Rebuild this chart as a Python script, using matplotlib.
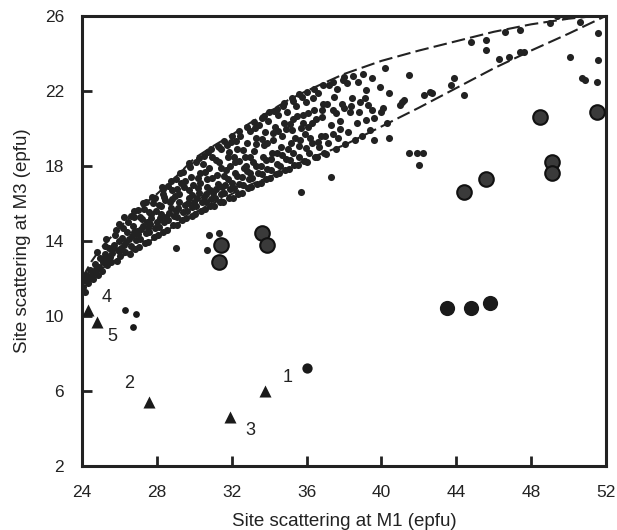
import numpy as np
import matplotlib.pyplot as plt

plt.rcParams['font.family'] = ['Liberation Sans', 'DejaVu Sans']

# envelope curves
env_x = [24, 24.5, 25, 26, 27, 28, 29, 30, 31, 32, 33, 34, 35, 36, 38, 40, 42, 44, 46, 48, 50, 52]
upper_y = [12.0, 12.9, 13.6, 14.7, 15.7, 16.5, 17.4, 18.4, 19.05, 19.65, 20.3, 20.9, 21.5, 22.0,
           22.9, 23.6, 24.15, 24.65, 25.15, 25.55, 25.85, 26.05]
lower_y = [11.8, 12.15, 12.5, 13.1, 13.65, 14.2, 14.85, 15.5, 16.0, 16.5, 17.0, 17.4, 17.85, 18.35,
           19.1, 20.1, 21.1, 22.15, 23.2, 24.15, 25.05, 26.0]

# small dots: main population
cloud = [
    (24.05, 11.55), (24.1, 11.9), (24.2, 12.2), (24.3, 11.75), (24.35, 12.1), (24.45, 12.45), (24.15, 11.3),
    (24.6, 11.95), (24.65, 12.35), (24.7, 12.75), (24.85, 12.2), (24.9, 12.6), (24.95, 13.1), (24.8, 13.4),
    (25.05, 12.4), (25.1, 12.85), (25.2, 13.3), (25.25, 13.75), (25.35, 12.7), (25.4, 13.05), (25.45, 13.6), (25.3, 14.1),
    (25.55, 12.9), (25.6, 13.35), (25.7, 13.8), (25.75, 14.3), (25.85, 12.95), (25.9, 13.5), (25.95, 14.0), (25.8, 14.6),
    (26.05, 13.2), (26.1, 13.6), (26.15, 14.15), (26.2, 14.7), (26.3, 13.4), (26.35, 13.95), (26.4, 14.45), (26.45, 15.0), (26.25, 15.25),
    (26.55, 13.3), (26.6, 13.75), (26.65, 14.25), (26.7, 14.8), (26.8, 15.3), (26.85, 13.55), (26.9, 14.05), (26.95, 14.55), (26.75, 15.6),
    (27.05, 13.7), (27.1, 14.1), (27.15, 14.65), (27.2, 15.15), (27.3, 15.7), (27.35, 13.9), (27.4, 14.4), (27.45, 15.0), (27.25, 16.0),
    (27.55, 13.95), (27.6, 14.45), (27.65, 14.9), (27.7, 15.45), (27.8, 16.0), (27.85, 14.2), (27.9, 14.7), (27.95, 15.6), (27.75, 16.35),
    (28.05, 14.3), (28.1, 14.75), (28.15, 15.2), (28.2, 15.85), (28.3, 16.5), (28.35, 14.5), (28.4, 15.0), (28.45, 16.2), (28.25, 16.85),
    (28.55, 14.6), (28.6, 15.1), (28.65, 15.5), (28.7, 16.1), (28.8, 16.7), (28.85, 14.85), (28.9, 15.35), (28.95, 16.4), (28.75, 17.2),
    (29.05, 14.85), (29.1, 15.3), (29.15, 15.75), (29.2, 16.5), (29.3, 17.1), (29.35, 15.1), (29.4, 15.55), (29.45, 16.85), (29.25, 17.6),
    (29.55, 15.2), (29.6, 15.6), (29.65, 16.0), (29.7, 16.7), (29.8, 17.4), (29.85, 15.35), (29.9, 15.8), (29.95, 17.0), (29.75, 17.95),
    (30.05, 15.45), (30.1, 15.85), (30.15, 16.3), (30.2, 16.8), (30.3, 17.6), (30.35, 15.6), (30.4, 16.05), (30.45, 18.1), (30.25, 18.4), (30.3, 17.1),
    (30.55, 15.7), (30.6, 16.1), (30.65, 16.5), (30.7, 17.3), (30.8, 17.9), (30.85, 15.85), (30.9, 16.25), (30.95, 18.5), (30.75, 18.75), (30.85, 16.7),
    (31.05, 15.85), (31.1, 16.3), (31.15, 16.75), (31.2, 17.5), (31.3, 18.2), (31.35, 16.05), (31.4, 16.5), (31.45, 18.9), (31.25, 19.05), (31.4, 17.9),
    (31.55, 16.1), (31.6, 16.55), (31.65, 17.0), (31.7, 17.8), (31.8, 18.5), (31.85, 16.3), (31.9, 16.75), (31.95, 19.3), (31.75, 19.1), (31.9, 18.0),
    (32.05, 16.3), (32.1, 16.8), (32.15, 17.6), (32.2, 18.2), (32.3, 18.9), (32.35, 16.5), (32.4, 17.05), (32.45, 19.6), (32.25, 19.35),
    (32.55, 16.55), (32.6, 17.0), (32.65, 17.9), (32.7, 18.5), (32.8, 19.2), (32.85, 16.8), (32.9, 17.3), (32.95, 19.85), (32.75, 18.0),
    (33.05, 16.9), (33.1, 17.35), (33.15, 18.2), (33.2, 18.8), (33.3, 19.5), (33.35, 17.05), (33.4, 17.6), (33.45, 20.2), (33.25, 20.0),
    (33.55, 17.1), (33.6, 17.55), (33.65, 18.5), (33.7, 19.1), (33.8, 19.8), (33.85, 17.3), (33.9, 17.85), (33.95, 20.4), (33.75, 20.65),
    (34.05, 17.35), (34.1, 17.8), (34.15, 18.7), (34.2, 19.4), (34.3, 20.1), (34.35, 17.55), (34.4, 18.1), (34.45, 20.7), (34.25, 20.95),
    (34.55, 17.6), (34.6, 18.0), (34.65, 19.0), (34.7, 19.6), (34.8, 20.3), (34.85, 17.8), (34.9, 18.35), (34.95, 20.9), (34.75, 21.2),
    (35.05, 17.85), (35.1, 18.3), (35.15, 19.2), (35.2, 19.9), (35.3, 20.5), (35.35, 18.05), (35.4, 19.5), (35.45, 21.2), (35.25, 21.45),
    (35.55, 18.05), (35.6, 18.5), (35.65, 19.4), (35.7, 20.0), (35.8, 20.7), (35.85, 18.25), (35.9, 19.7), (35.95, 21.4), (35.75, 21.7),
    (36.05, 18.2), (36.15, 18.7), (36.2, 19.5), (36.3, 20.3), (36.4, 21.0), (36.45, 18.45), (36.35, 21.6), (36.1, 20.05),
    (36.55, 18.45), (36.65, 19.0), (36.75, 19.6), (36.85, 20.6), (36.9, 21.3), (36.6, 21.9), (36.95, 18.7),
    (37.05, 18.65), (37.15, 19.2), (37.3, 20.2), (37.4, 21.0), (37.45, 21.7), (37.2, 22.3),
    (37.55, 18.9), (37.7, 19.5), (37.8, 20.4), (37.9, 21.3), (37.65, 22.1), (37.95, 22.6),
    (38.05, 19.15), (38.2, 19.8), (38.3, 20.9), (38.45, 21.6), (38.15, 22.4),
    (38.6, 19.4), (38.7, 20.3), (38.85, 21.4), (38.75, 22.5), (38.95, 19.6),
    (39.2, 22.05), (39.1, 21.6), (39.3, 21.25), (39.5, 21.0), (39.6, 20.55), (39.2, 20.45), (39.5, 22.7), (39.4, 19.9),
    (40.2, 23.2), (39.9, 22.2), (40.4, 21.9), (40.1, 21.1), (40.0, 20.9), (40.3, 20.3),
    (41.1, 21.4), (41.0, 21.25), (41.2, 21.5), (41.5, 22.85), (42.3, 21.8), (42.6, 21.95), (42.7, 21.9),
    (43.7, 22.3), (43.9, 22.7), (44.4, 21.8),
    (44.8, 24.6), (45.6, 24.7), (45.6, 24.2), (46.3, 23.7), (46.8, 23.8), (47.4, 24.1), (47.6, 24.1),
    (46.6, 25.15), (47.4, 25.25), (49.0, 25.6), (50.6, 25.7), (49.4, 26.0), (49.8, 26.0),
    (50.1, 23.8), (51.6, 23.65), (51.6, 25.1), (50.7, 22.7), (50.9, 22.6), (51.5, 22.5),
    # lower band, filling
    (24.25, 11.95), (24.55, 12.2), (24.75, 12.5), (25.15, 13.05), (25.5, 13.15), (25.65, 13.6), (26.0, 13.45),
    (26.25, 13.8), (26.5, 14.1), (26.75, 14.5), (27.0, 14.35), (27.25, 14.8), (27.5, 14.7), (27.7, 15.2),
    (28.0, 15.0), (28.2, 15.45), (28.5, 15.3), (28.75, 15.75), (29.0, 15.6), (29.2, 16.05), (29.5, 15.9),
    (29.7, 16.3), (30.0, 16.1), (30.25, 16.55), (30.5, 16.35), (30.7, 16.85), (31.0, 16.55), (31.25, 17.05),
    (31.5, 16.85), (31.8, 17.3), (32.0, 17.1), (32.3, 17.45), (32.55, 17.4), (32.8, 17.75), (33.0, 17.6),
    (33.3, 18.0), (33.55, 18.0), (33.85, 18.3), (34.1, 18.35), (34.4, 18.7), (34.7, 18.6), (35.0, 18.9),
    (35.3, 18.7), (35.6, 19.05), (35.95, 18.95), (36.3, 19.2), (36.6, 19.3), (37.0, 19.6), (37.4, 19.7), (37.8, 19.95),
    # upper band, filling
    (26.0, 14.9), (26.6, 15.35), (27.0, 15.65), (27.4, 16.05), (27.9, 16.3), (28.3, 16.75), (28.6, 16.95),
    (29.0, 17.3), (29.4, 17.7), (29.7, 18.15), (30.1, 18.2), (30.5, 18.55), (30.9, 18.9), (31.3, 19.0),
    (31.6, 19.35), (32.0, 19.6), (32.4, 19.85), (32.8, 20.1), (33.2, 20.35), (33.6, 20.55), (34.0, 20.85),
    (34.4, 21.05), (34.8, 21.35), (35.2, 21.6), (35.6, 21.85), (36.0, 21.95), (36.4, 22.1), (36.9, 22.3),
    (37.4, 22.5), (38.0, 22.75), (38.5, 22.8), (39.0, 22.9),
    # middle, filling
    (27.1, 15.3), (27.6, 15.55), (28.1, 15.9), (28.4, 16.35), (28.8, 16.25), (29.1, 16.75), (29.5, 17.2),
    (29.85, 16.45), (30.2, 17.35), (30.55, 17.65), (30.95, 17.35), (31.15, 18.3), (31.6, 17.45), (31.85, 18.75),
    (32.1, 18.45), (32.4, 18.25), (32.6, 18.85), (33.0, 18.45), (33.3, 19.15), (33.6, 19.45), (33.9, 19.2),
    (34.2, 19.75), (34.5, 19.85), (34.9, 19.95), (35.1, 20.25), (35.5, 20.65), (35.8, 20.3), (36.1, 20.8),
    (36.5, 20.5), (36.8, 21.0), (37.1, 21.3), (37.6, 20.8), (38.0, 21.1), (38.4, 21.2), (38.8, 20.9),
    # dots outside the envelope
    (29.0, 13.6), (30.8, 14.3), (31.3, 14.4), (30.7, 13.5), (35.7, 16.6), (37.3, 17.4),
    (39.6, 19.4), (40.4, 19.5), (41.5, 18.7), (41.9, 18.7), (42.2, 18.7), (42.0, 18.05),
]

# large ringed circles
big_x = [31.4, 31.3, 33.6, 33.9, 44.4, 45.6, 48.5, 51.5, 49.1, 49.1]
big_y = [13.8, 12.9, 14.4, 13.8, 16.6, 17.3, 20.6, 20.9, 18.2, 17.6]

# solid circles
solid_x = [43.5, 44.8, 45.8]
solid_y = [10.4, 10.4, 10.7]
mid_x = [36.0]
mid_y = [7.2]
small_x = [26.3, 26.9, 26.7]
small_y = [10.3, 10.1, 9.4]

# triangles
tri_x = [24.3, 24.8, 27.6, 31.9, 33.8]
tri_y = [10.3, 9.7, 5.4, 4.6, 6.0]

# numbered labels
lab_text = ['4', '5', '2', '3', '1']
lab_x = [25.3, 25.6, 26.5, 33.0, 35.0]
lab_y = [11.0, 8.9, 6.4, 3.9, 6.7]

fig = plt.figure(figsize=(6.17, 5.30), dpi=100)
ax = fig.add_axes([0.133, 0.121, 0.849, 0.849])

ax.plot(env_x, upper_y, color='#222222', lw=1.5, ls=(0, (6.5, 2.5)))
ax.plot(env_x, lower_y, color='#222222', lw=1.5, ls=(0, (6.5, 2.5)))

cx = [p[0] for p in cloud]
cy = [p[1] for p in cloud]
ax.scatter(cx, cy, s=26, color='#222222', linewidths=0, zorder=3)

ax.scatter(big_x, big_y, s=110, facecolor='#3a3a3a', edgecolor='#111111', linewidths=1.5, zorder=4)
ax.scatter(solid_x, solid_y, s=120, color='#1a1a1a', linewidths=0, zorder=4)
ax.scatter(mid_x, mid_y, s=55, color='#1a1a1a', linewidths=0, zorder=4)
ax.scatter(small_x, small_y, s=24, color='#1a1a1a', linewidths=0, zorder=4)
ax.scatter(tri_x, tri_y, s=75, marker='^', color='#1a1a1a', linewidths=0, zorder=4)

for t, x, y in zip(lab_text, lab_x, lab_y):
    ax.text(x, y, t, fontsize=13, ha='center', va='center', color='#222222')

ax.set_xlim(24, 52)
ax.set_ylim(2, 26)
ax.set_xticks(np.arange(24, 53, 4))
ax.set_yticks(np.arange(2, 27, 4))
ax.tick_params(direction='in', length=7, width=2, labelsize=12.5, colors='#222222')
ax.tick_params(axis='x', pad=14)
ax.tick_params(axis='y', pad=13)
for sp in ax.spines.values():
    sp.set_linewidth(2.2)
    sp.set_color('#222222')

ax.set_xlabel('Site scattering at M1 (epfu)', fontsize=13.5, color='#222222', labelpad=9)
ax.set_ylabel('Site scattering at M3 (epfu)', fontsize=13.5, color='#222222', labelpad=10)

fig.savefig('out.png', dpi=100)
